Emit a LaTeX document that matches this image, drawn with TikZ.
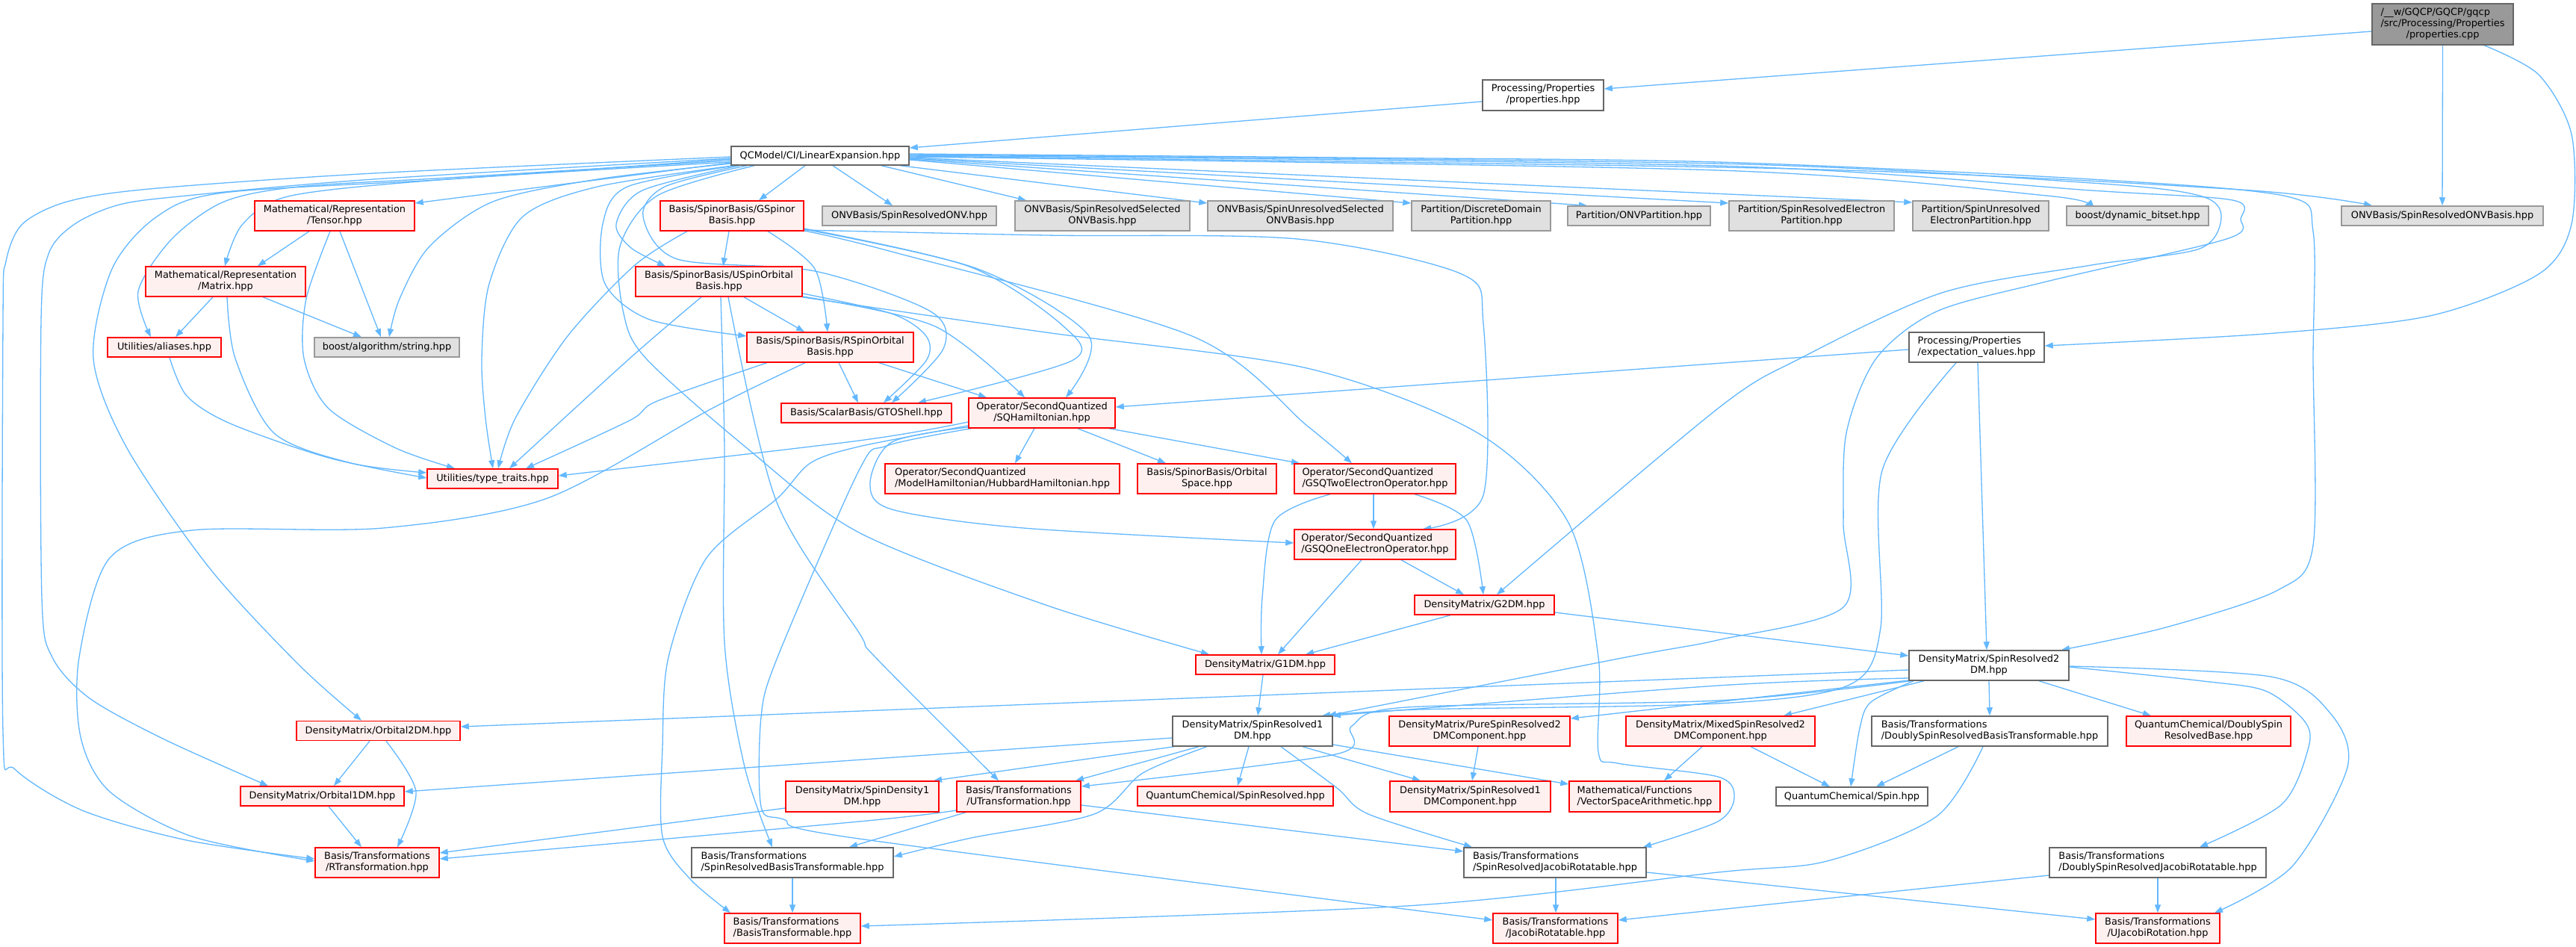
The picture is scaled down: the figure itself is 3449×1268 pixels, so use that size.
\documentclass[tikz,border=0pt]{standalone}
\usepackage{fontspec}
\setmainfont{DejaVu Sans}
\usetikzlibrary{arrows.meta}
\definecolor{edgec}{HTML}{63B8FF}
\definecolor{redb}{HTML}{FF0000}
\definecolor{redf}{HTML}{FFF0F0}
\definecolor{grayb}{HTML}{999999}
\definecolor{grayf}{HTML}{E0E0E0}
\definecolor{darkb}{HTML}{666666}
\definecolor{rootf}{HTML}{999999}
\pgfdeclarelayer{background}
\pgfdeclarelayer{canvas}
\pgfsetlayers{canvas,background,main}
\newcommand\twoline[2]{\begin{tabular}{@{}l@{}}#1\\\multicolumn{1}{@{}c@{}}{#2}\end{tabular}}
\newcommand\threeline[3]{\begin{tabular}{@{}l@{}}#1\\#2\\\multicolumn{1}{@{}c@{}}{#3}\end{tabular}}
\tikzset{
  nbase/.style={draw, line width=1.5pt, inner sep=0pt, font=\fontsize{12.9}{15}\selectfont, text=black},
  whitebox/.style={nbase, draw=darkb, fill=white},
  redbox/.style={nbase, draw=redb, fill=redf},
  graybox/.style={nbase, draw=grayb, fill=grayf},
  rootbox/.style={nbase, draw=darkb, fill=rootf},
  conn/.style={draw=edgec, line width=1.3pt, -{Triangle[length=11pt,width=8pt]}},
}
\begin{document}
\begin{tikzpicture}[x=1pt,y=-1pt]
\useasboundingbox (0,0) rectangle (3449,1268);
\begin{pgfonlayer}{canvas}
\fill[white] (0,0) rectangle (3449,1268);
\end{pgfonlayer}
% nodes
\node[rootbox,minimum width=189,minimum height=55] (cpp) at (3270.5,32.5) {\threeline{/\_\_w/GQCP/GQCP/gqcp}{/src/Processing/Properties}{/properties.cpp}};
\node[whitebox,minimum width=162,minimum height=41] (prop) at (2066,127.5) {\twoline{Processing/Properties}{/properties.hpp}};
\node[whitebox,minimum width=238,minimum height=25] (linexp) at (1098,208.5) {QCModel/CI/LinearExpansion.hpp};
\node[redbox,minimum width=214,minimum height=40] (tensor) at (448,289) {\twoline{Mathematical/Representation}{/Tensor.hpp}};
\node[redbox,minimum width=192,minimum height=40] (gspinor) at (980,289) {\twoline{Basis/SpinorBasis/GSpinor}{Basis.hpp}};
\node[graybox,minimum width=233,minimum height=26] (srONV) at (1217.5,289) {ONVBasis/SpinResolvedONV.hpp};
\node[graybox,minimum width=234,minimum height=40] (srSel) at (1476,289) {\twoline{ONVBasis/SpinResolvedSelected}{ONVBasis.hpp}};
\node[graybox,minimum width=248,minimum height=40] (suSel) at (1741,289) {\twoline{ONVBasis/SpinUnresolvedSelected}{ONVBasis.hpp}};
\node[graybox,minimum width=186,minimum height=40] (ddp) at (1983,289) {\twoline{Partition/DiscreteDomain}{Partition.hpp}};
\node[graybox,minimum width=191,minimum height=26] (onvp) at (2194.5,289) {Partition/ONVPartition.hpp};
\node[graybox,minimum width=221,minimum height=40] (srep) at (2425.5,289) {\twoline{Partition/SpinResolvedElectron}{Partition.hpp}};
\node[graybox,minimum width=182,minimum height=40] (suep) at (2652,289) {\twoline{Partition/SpinUnresolved}{ElectronPartition.hpp}};
\node[graybox,minimum width=190,minimum height=26] (bitset) at (2862,289) {boost/dynamic\_bitset.hpp};
\node[graybox,minimum width=270,minimum height=26] (srONVB) at (3270,289) {ONVBasis/SpinResolvedONVBasis.hpp};
\node[redbox,minimum width=214,minimum height=40] (matrix) at (302,377) {\twoline{Mathematical/Representation}{/Matrix.hpp}};
\node[redbox,minimum width=223,minimum height=40] (uso) at (962.5,377) {\twoline{Basis/SpinorBasis/USpinOrbital}{Basis.hpp}};
\node[redbox,minimum width=152,minimum height=26] (aliases) at (220,465) {Utilities/aliases.hpp};
\node[graybox,minimum width=194,minimum height=26] (bstring) at (518,465) {boost/algorithm/string.hpp};
\node[redbox,minimum width=223,minimum height=40] (rso) at (1111.5,465) {\twoline{Basis/SpinorBasis/RSpinOrbital}{Basis.hpp}};
\node[whitebox,minimum width=181,minimum height=40] (expval) at (2646.5,465) {\twoline{Processing/Properties}{/expectation\_values.hpp}};
\node[redbox,minimum width=228,minimum height=26] (gto) at (1160,553) {Basis/ScalarBasis/GTOShell.hpp};
\node[redbox,minimum width=196,minimum height=40] (sqham) at (1395,553) {\twoline{Operator/SecondQuantized}{/SQHamiltonian.hpp}};
\node[redbox,minimum width=175,minimum height=26] (ttraits) at (659.5,641) {Utilities/type\_traits.hpp};
\node[redbox,minimum width=314,minimum height=40] (hubbard) at (1342,641) {\twoline{Operator/SecondQuantized}{/ModelHamiltonian/HubbardHamiltonian.hpp}};
\node[redbox,minimum width=186,minimum height=40] (orbspace) at (1616,641) {\twoline{Basis/SpinorBasis/Orbital}{Space.hpp}};
\node[redbox,minimum width=216,minimum height=40] (gsq2) at (1841,641) {\twoline{Operator/SecondQuantized}{/GSQTwoElectronOperator.hpp}};
\node[redbox,minimum width=216,minimum height=40] (gsq1) at (1841,729) {\twoline{Operator/SecondQuantized}{/GSQOneElectronOperator.hpp}};
\node[redbox,minimum width=187,minimum height=26] (g2dm) at (1987.5,810) {DensityMatrix/G2DM.hpp};
\node[redbox,minimum width=186,minimum height=26] (g1dm) at (1694,890) {DensityMatrix/G1DM.hpp};
\node[whitebox,minimum width=214,minimum height=40] (sr2dm) at (2663,891) {\twoline{DensityMatrix/SpinResolved2}{DM.hpp}};
\node[redbox,minimum width=219,minimum height=26] (orb2dm) at (506.5,978.5) {DensityMatrix/Orbital2DM.hpp};
\node[whitebox,minimum width=214,minimum height=40] (sr1dm) at (1677,979) {\twoline{DensityMatrix/SpinResolved1}{DM.hpp}};
\node[redbox,minimum width=242,minimum height=40] (pure) at (1981,979) {\twoline{DensityMatrix/PureSpinResolved2}{DMComponent.hpp}};
\node[redbox,minimum width=253,minimum height=40] (mixed) at (2303.5,979) {\twoline{DensityMatrix/MixedSpinResolved2}{DMComponent.hpp}};
\node[whitebox,minimum width=316,minimum height=40] (dsrbt) at (2664,979) {\twoline{Basis/Transformations}{/DoublySpinResolvedBasisTransformable.hpp}};
\node[redbox,minimum width=220,minimum height=40] (dsrbase) at (2957,979) {\twoline{QuantumChemical/DoublySpin}{ResolvedBase.hpp}};
\node[redbox,minimum width=219,minimum height=26] (orb1dm) at (431.5,1066) {DensityMatrix/Orbital1DM.hpp};
\node[redbox,minimum width=205,minimum height=41] (spind) at (1154.5,1066.5) {\twoline{DensityMatrix/SpinDensity1}{DM.hpp}};
\node[redbox,minimum width=166,minimum height=41] (utrans) at (1364,1066.5) {\twoline{Basis/Transformations}{/UTransformation.hpp}};
\node[redbox,minimum width=262,minimum height=26] (qcsr) at (1654,1066) {QuantumChemical/SpinResolved.hpp};
\node[redbox,minimum width=215,minimum height=41] (sr1comp) at (1968.5,1066.5) {\twoline{DensityMatrix/SpinResolved1}{DMComponent.hpp}};
\node[redbox,minimum width=202,minimum height=41] (vsa) at (2202,1066.5) {\twoline{Mathematical/Functions}{/VectorSpaceArithmetic.hpp}};
\node[whitebox,minimum width=203,minimum height=25] (spin) at (2479.5,1066.5) {QuantumChemical/Spin.hpp};
\node[redbox,minimum width=166,minimum height=40] (rtrans) at (505,1155) {\twoline{Basis/Transformations}{/RTransformation.hpp}};
\node[whitebox,minimum width=270,minimum height=40] (srbt) at (1061,1155) {\twoline{Basis/Transformations}{/SpinResolvedBasisTransformable.hpp}};
\node[whitebox,minimum width=244,minimum height=40] (srjr) at (2082,1155) {\twoline{Basis/Transformations}{/SpinResolvedJacobiRotatable.hpp}};
\node[whitebox,minimum width=290,minimum height=40] (dsrjr) at (2889,1155) {\twoline{Basis/Transformations}{/DoublySpinResolvedJacobiRotatable.hpp}};
\node[redbox,minimum width=182,minimum height=40] (btrans) at (1061,1243) {\twoline{Basis/Transformations}{/BasisTransformable.hpp}};
\node[redbox,minimum width=167,minimum height=40] (jrot) at (2082.5,1243) {\twoline{Basis/Transformations}{/JacobiRotatable.hpp}};
\node[redbox,minimum width=166,minimum height=40] (ujrot) at (2889,1243) {\twoline{Basis/Transformations}{/UJacobiRotation.hpp}};
% edges
\begin{pgfonlayer}{background}
% root
\draw[conn] ([yshift=-9.5]cpp.west) -- ([yshift=8.5]prop.east);
\draw[conn] (cpp.south) -- (srONVB.north);
\draw[conn] plot[smooth] coordinates {([xshift=55.5]cpp.south) (3399,100) (3443,180) (3443,300) (3399,367) (3253,423) (3033,447) ([yshift=2]expval.east)};
\draw[conn] ([yshift=-8.5]prop.west) -- ([yshift=10.5]linexp.east);
% linexp left fan
\draw[conn] plot[smooth] coordinates {([yshift=-1.5]linexp.west) (500,232) (200,253) (90,270) (30,300) (8,350) (4,430) (4,980) (20,1030) (110,1085) (250,1125) ([yshift=5]rtrans.west)};
\draw[conn] plot[smooth] coordinates {([yshift=-3.5]linexp.west) (500,240) (250,262) (160,274) (100,300) (65,340) (55,430) (56,800) (70,880) (120,935) (220,990) ([xshift=-72.5]orb1dm.north)};
\draw[conn] plot[smooth] coordinates {([yshift=-4.5]linexp.west) (600,240) (300,258) (210,290) (150,360) (125,480) (170,600) (280,760) (400,890) ([xshift=-22.5]orb2dm.north)};
\draw[conn] plot[smooth] coordinates {([yshift=-6.5]linexp.west) (600,238) (400,250) (300,270) (230,320) (185,390) ([xshift=-18]aliases.north)};
\draw[conn] plot[smooth] coordinates {([yshift=-8.5]linexp.west) (600,240) (390,262) (325,300) ([xshift=-1]matrix.north)};
\draw[conn] ([yshift=-9.5]linexp.west) -- ([yshift=17]tensor.east);
\draw[conn] plot[smooth] coordinates {([yshift=-10.5]linexp.west) (800,240) (660,270) (575,330) (535,400) ([xshift=3]bstring.north)};
\draw[conn] plot[smooth] coordinates {([xshift=-116]linexp.south) (800,250) (700,290) (655,380) (645,480) (650,560) ([xshift=0.5]ttraits.north)};
% linexp down
\draw[conn] ([xshift=-20]linexp.south) -- ([xshift=36]gspinor.north);
\draw[conn] ([xshift=17]linexp.south) -- ([xshift=-22.5]srONV.north);
\draw[conn] ([xshift=82]linexp.south) -- ([xshift=-102]srSel.north);
\draw[conn] ([xshift=107]linexp.south) -- ([yshift=17]suSel.west);
\draw[conn] plot[smooth] coordinates {([xshift=-108]linexp.south) (860,255) (825,300) (845,332) ([xshift=-71.5]uso.north)};
\draw[conn] plot[smooth] coordinates {([xshift=-113]linexp.south) (840,250) (807,300) (810,380) (870,428) ([yshift=15]rso.west)};
\draw[conn] plot[smooth] coordinates {([xshift=-98]linexp.south) (890,250) (861,290) (907,347) (1091,363) (1246,417) (1263,467) ([xshift=34]gto.north)};
\draw[conn] plot[smooth] coordinates {([xshift=-88]linexp.south) (880,262) (830,330) (835,420) (865,480) (1000,600) (1150,713) (1400,810) ([xshift=-75]g1dm.north)};
% linexp right
\draw[conn] ([yshift=-5.5]linexp.east) -- ([yshift=17]ddp.west);
\draw[conn] ([yshift=-4.5]linexp.east) -- ([xshift=-69.5]onvp.north);
\draw[conn] ([yshift=-3.5]linexp.east) -- ([yshift=17]srep.west);
\draw[conn] ([yshift=-2.5]linexp.east) -- ([yshift=18]suep.west);
\draw[conn] plot[smooth] coordinates {([yshift=-1.5]linexp.east) (2300,228) (2740,262) ([xshift=-71]bitset.north)};
\draw[conn] plot[smooth] coordinates {([yshift=-0.5]linexp.east) (2400,226) (3000,254) ([xshift=-94]srONVB.north)};
\draw[conn] plot[smooth] coordinates {([yshift=2.5]linexp.east) (1800,211) (2300,217) (2800,240) (3062,263) (3097,310) (3097,480) (3097,730) (3050,790) (2900,840) ([xshift=97]sr2dm.north)};
\draw[conn] plot[smooth] coordinates {([yshift=1.5]linexp.east) (2300,219) (2800,245) (2945,262) (2974,290) (2945,333) (2800,355) (2600,392) (2410,480) (2300,547) ([xshift=16.5]g2dm.north)};
\draw[conn] plot[smooth] coordinates {([yshift=0.5]linexp.east) (2300,222) (2800,255) (2989,268) (3000,293) (2981,320) (2740,377) (2593,417) (2512,480) (2472,580) (2468,700) (2468,813) (2300,857) (2177,880) ([xshift=101]sr1dm.north)};
% tensor, matrix, aliases
\draw[conn] ([xshift=-34]tensor.south) -- ([xshift=43]matrix.north);
\draw[conn] ([xshift=7]tensor.south) -- ([xshift=-8]bstring.north);
\draw[conn] plot[smooth] coordinates {([xshift=-6]tensor.south) (410,400) (407,480) (440,547) (530,600) ([xshift=-50.5]ttraits.north)};
\draw[conn] ([xshift=-17]matrix.south) -- ([xshift=15]aliases.north);
\draw[conn] ([xshift=50]matrix.south) -- ([xshift=-34]bstring.north);
\draw[conn] plot[smooth] coordinates {([xshift=2]matrix.south) (315,480) (367,580) (470,620) ([yshift=8]ttraits.west)};
\draw[conn] plot[smooth] coordinates {([xshift=7]aliases.south) (250,530) (308,567) (440,613) ([yshift=1]ttraits.west)};
% gspinor
\draw[conn] ([xshift=-4]gspinor.south) -- ([xshift=5.5]uso.north);
\draw[conn] plot[smooth] coordinates {([xshift=48]gspinor.south) (1091,360) ([xshift=-3.5]rso.north)};
\draw[conn] plot[smooth] coordinates {([xshift=-60]gspinor.south) (850,355) (760,450) (690,560) ([xshift=7.5]ttraits.north)};
\draw[conn] plot[smooth] coordinates {([yshift=-18]gspinor.east) (1309,360) (1458,450) ([xshift=32]sqham.north)};
\draw[conn] plot[smooth] coordinates {([yshift=-17]gspinor.east) (1298,357) (1424,437) (1435,483) ([xshift=69]gto.north)};
\draw[conn] plot[smooth] coordinates {([yshift=-19]gspinor.east) (1400,315) (1737,320) (1957,367) (1986,433) (1986,663) ([xshift=64]gsq1.north)};
\draw[conn] plot[smooth] coordinates {([yshift=-20]gspinor.east) (1194,337) (1596,450) (1750,570) ([xshift=-31]gsq2.north)};
% uso
\draw[conn] ([xshift=33.5]uso.south) -- ([xshift=-34.5]rso.north);
\draw[conn] plot[smooth] coordinates {([yshift=-16]uso.east) (1194,420) (1240,450) (1240,483) ([xshift=23]gto.north)};
\draw[conn] plot[smooth] coordinates {([yshift=-20]uso.east) (1252,437) ([xshift=-23]sqham.north)};
\draw[conn] plot[smooth] coordinates {([xshift=-23.5]uso.south) (843,480) ([xshift=22.5]ttraits.north)};
\draw[conn] plot[smooth] coordinates {([xshift=2.5]uso.south) (970,600) (970,860) (997,1027) ([xshift=-27]srbt.north)};
\draw[conn] plot[smooth] coordinates {([xshift=12.5]uso.south) (1039,670) (1150,847) (1172,880) ([xshift=-27]utrans.north)};
\draw[conn] plot[smooth] coordinates {([yshift=-21]uso.east) (1400,445) (1750,493) (1979,580) (2100,700) (2140,880) (2140,1007) (2166,1022) (2300,1040) (2322,1067) (2300,1100) ([xshift=118]srjr.north)};
% rso
\draw[conn] plot[smooth] coordinates {([xshift=-84.5]rso.south) (880,537) (843,563) ([xshift=44.5]ttraits.north)};
\draw[conn] plot[smooth] coordinates {([xshift=-33.5]rso.south) (953,547) (733,667) (513,707) (257,710) (147,747) (106,880) (108,987) (147,1060) (257,1120) ([yshift=2]rtrans.west)};
\draw[conn] ([xshift=11.5]rso.south) -- ([xshift=-11]gto.north);
\draw[conn] ([xshift=65.5]rso.south) -- ([xshift=-74]sqham.north);
% sqham
\draw[conn] plot[smooth] coordinates {([yshift=-12]sqham.west) (1150,590) ([yshift=4]ttraits.east)};
\draw[conn] ([xshift=-10]sqham.south) -- ([xshift=17]hubbard.north);
\draw[conn] ([xshift=48]sqham.south) -- ([xshift=-55]orbspace.north);
\draw[conn] ([xshift=90]sqham.south) -- ([xshift=-101]gsq2.north);
\draw[conn] plot[smooth] coordinates {([yshift=-19]sqham.west) (1194,592) (1165,647) (1194,682) (1370,707) ([yshift=2]gsq1.west)};
\draw[conn] plot[smooth] coordinates {([yshift=-17]sqham.west) (1150,598) (1085,620) (1041,667) (946,747) (895,880) (887,1000) (887,1120) (924,1177) ([xshift=-83]btrans.north)};
\draw[conn] plot[smooth] coordinates {([xshift=-95]sqham.south) (1187,597) (1150,630) (1041,880) (1019,960) (1019,1080) (1049,1097) (1150,1123) ([yshift=11]jrot.west)};
% operators, dms
\draw[conn] ([xshift=-2]gsq2.south) -- ([xshift=-2]gsq1.north);
\draw[conn] plot[smooth] coordinates {([xshift=53]gsq2.south) (1964,697) ([xshift=-1.5]g2dm.north)};
\draw[conn] plot[smooth] coordinates {([xshift=-60]gsq2.south) (1707,697) (1690,800) ([xshift=-5]g1dm.north)};
\draw[conn] ([xshift=35]gsq1.south) -- ([xshift=-27.5]g2dm.north);
\draw[conn] ([xshift=-18]gsq1.south) -- ([xshift=17]g1dm.north);
\draw[conn] ([xshift=-45.5]g2dm.south) -- ([xshift=54]g1dm.north);
\draw[conn] ([yshift=-10]g2dm.east) -- ([yshift=13]sr2dm.west);
\draw[conn] ([xshift=-3]g1dm.south) -- ([xshift=7]sr1dm.north);
% expval
\draw[conn] ([yshift=-3]expval.west) -- ([yshift=8]sqham.east);
\draw[conn] ([xshift=1.5]expval.south) -- ([xshift=-3]sr2dm.north);
\draw[conn] plot[smooth] coordinates {([xshift=-27.5]expval.south) (2520,630) (2518,840) (2476,917) (2300,942) (1900,950) ([xshift=93]sr1dm.north)};
% sr2dm
\draw[conn] ([yshift=-6]sr2dm.west) -- ([yshift=5.5]orb2dm.east);
\draw[conn] plot[smooth] coordinates {([yshift=-17]sr2dm.west) (2300,918) ([xshift=107]sr1dm.north)};
\draw[conn] ([yshift=-20]sr2dm.west) -- ([yshift=17]pure.east);
\draw[conn] plot[smooth] coordinates {([xshift=-105]sr2dm.south) (2300,938) (1883,947) (1810,972) (1788,1010) ([yshift=13.5]utrans.east)};
\draw[conn] ([xshift=-87]sr2dm.south) -- ([xshift=84.5]mixed.north);
\draw[conn] (sr2dm.south) -- (dsrbt.north);
\draw[conn] ([xshift=67]sr2dm.south) -- ([xshift=-77]dsrbase.north);
\draw[conn] plot[smooth] coordinates {([xshift=-101]sr2dm.south) (2505,940) (2490,975) ([xshift=-1.5]spin.north)};
\draw[conn] plot[smooth] coordinates {([yshift=-2]sr2dm.east) (2950,912) (3033,925) (3085,965) (3091,1000) (3055,1077) ([xshift=56]dsrjr.north)};
\draw[conn] plot[smooth] coordinates {([yshift=-1]sr2dm.east) (3040,906) (3120,955) (3143,1027) (3069,1160) ([xshift=76]ujrot.north)};
% sr1dm
\draw[conn] ([xshift=-105]sr1dm.south) -- ([xshift=95.5]spind.north);
\draw[conn] ([xshift=-72]sr1dm.south) -- ([xshift=76]utrans.north);
\draw[conn] ([xshift=-5]sr1dm.south) -- ([xshift=3]qcsr.north);
\draw[conn] ([xshift=67]sr1dm.south) -- ([xshift=-66.5]sr1comp.north);
\draw[conn] ([yshift=-18]sr1dm.east) -- ([yshift=16.5]vsa.west);
\draw[conn] plot[smooth] coordinates {([xshift=38]sr1dm.south) (1790,1055) (1832,1090) ([xshift=-111]srjr.north)};
\draw[conn] plot[smooth] coordinates {([xshift=-61]sr1dm.south) (1530,1035) (1465,1090) (1300,1122) ([yshift=8]srbt.east)};
\draw[conn] ([yshift=-9]sr1dm.west) -- ([yshift=6]orb1dm.east);
% components
\draw[conn] ([xshift=-2]pure.south) -- ([xshift=2.5]sr1comp.north);
\draw[conn] ([xshift=-24.5]mixed.south) -- ([xshift=26]vsa.north);
\draw[conn] ([xshift=40.5]mixed.south) -- ([xshift=-29.5]spin.north);
\draw[conn] ([xshift=-42]dsrbt.south) -- ([xshift=32.5]spin.north);
\draw[conn] plot[smooth] coordinates {([xshift=-9]dsrbt.south) (2593,1093) (2446,1153) (2300,1168) (1883,1213) ([yshift=3]btrans.east)};
% transformations
\draw[conn] ([yshift=-15.5]spind.west) -- ([yshift=13]rtrans.east);
\draw[conn] plot[smooth] coordinates {([yshift=-18.5]utrans.west) (1150,1100) ([yshift=5]rtrans.east)};
\draw[conn] ([xshift=-71]utrans.south) -- ([xshift=76]srbt.north);
\draw[conn] ([yshift=-11.5]utrans.east) -- ([yshift=15]srjr.west);
\draw[conn] ([xshift=-11.5]orb2dm.south) -- ([xshift=15.5]orb1dm.north);
\draw[conn] plot[smooth] coordinates {([xshift=10.5]orb2dm.south) (557,1060) ([xshift=27]rtrans.north)};
\draw[conn] ([xshift=8.5]orb1dm.south) -- ([xshift=-21]rtrans.north);
\draw[conn] (srbt.south) -- (btrans.north);
\draw[conn] ([xshift=1]srjr.south) -- ([xshift=0.5]jrot.north);
\draw[conn] ([yshift=-13]srjr.east) -- ([yshift=12]ujrot.west);
\draw[conn] ([yshift=-17]dsrjr.west) -- ([yshift=11]jrot.east);
\draw[conn] (dsrjr.south) -- (ujrot.north);
\end{pgfonlayer}
\end{tikzpicture}
\end{document}
